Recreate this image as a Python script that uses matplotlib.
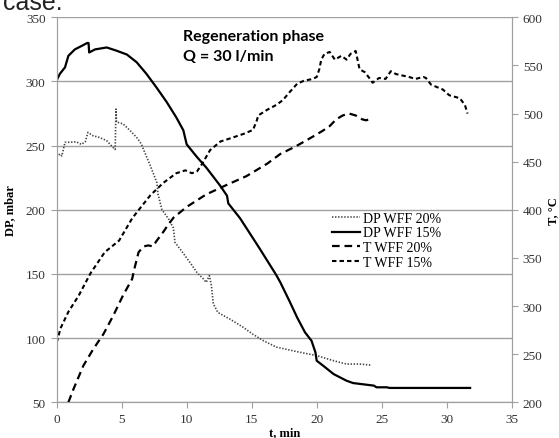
import matplotlib
matplotlib.use("Agg")
import matplotlib.pyplot as plt

# DP WFF 20% (dotted), mbar
t_dp20 = [0, 0.25, 0.4, 0.64, 1.0, 1.5, 1.9, 2.2, 2.4, 2.8, 3.3, 3.85, 4.2, 4.5, 4.56,
          4.6, 5.1, 5.64, 6.15, 6.5, 6.66, 7.2, 7.7, 7.8, 8.1, 8.6, 8.97, 9.1, 9.6, 10.25,
          10.8, 11.3, 11.5, 11.75, 11.9, 12.05, 12.4, 13.3, 14.35, 15.1, 15.9, 16.9, 18.7,
          20.0, 21.3, 22.3, 23.3, 24.2]
dp20 = [241, 243.6, 242, 252.6, 252.6, 253, 251, 253, 260.3, 257.7, 256.4, 253.8, 250, 247,
        278.5, 268.4, 267, 261.8, 256.4, 251.5, 247.5, 234.4, 221.3, 212, 200, 193, 186,
        174.6, 168, 159, 151, 146, 143.5, 148.7, 141, 126.6, 120, 115, 108.4, 103, 98, 93,
        89, 86.4, 82.4, 79.8, 79.8, 79]

# DP WFF 15% (solid), mbar
t_dp15 = [0, 0.25, 0.64, 0.9, 1.4, 1.9, 2.35, 2.45, 2.5, 2.95, 3.85, 4.6, 5.4, 6.15, 6.9,
          7.7, 8.46, 9.2, 9.74, 10.0, 10.8, 11.5, 12.56, 13.1, 13.2, 14.1, 15.6, 16.9, 17.2,
          17.9, 18.5, 19.1, 19.6, 19.9, 20.0, 20.5, 21.3, 22.3, 22.8, 24.4, 24.6, 25.4,
          25.6, 31.8]
dp15 = [301, 306, 311, 320, 325, 327.6, 330, 330, 322.6, 325, 326.5, 324, 321, 315, 306,
        295, 284, 272, 262, 251, 241, 233, 219, 211, 205, 193.5, 170, 149, 143.5, 129, 116,
        104.5, 98, 89, 82.4, 78.5, 72, 66.8, 65, 63, 61.7, 61.7, 61.2, 61.2]

# T WFF 20% (long dashes), degC
t_t20 = [0.9, 1.3, 2.05, 2.8, 3.6, 4.35, 5.1, 5.8, 6.0, 6.3, 6.7, 7.05, 7.4, 7.7, 8.2,
         8.6, 9.0, 10.0, 11.5, 13.1, 14.6, 16.2, 17.2, 18.4, 19.7, 20.45, 21.0, 21.5, 22.0,
         22.5, 23.0, 23.5, 23.8, 24.05]
temp20 = [200, 214, 238, 255, 271, 290, 311, 328, 340, 356, 362, 363, 362, 368, 377, 385,
          392, 403, 416, 426, 435, 448, 458, 466, 476, 482, 487, 494, 498, 500, 498, 494,
          493, 494]

# T WFF 15% (short dashes), degC
t_t15 = [0, 0.3, 0.9, 1.7, 2.6, 3.7, 4.8, 5.8, 6.2, 7.2, 8.2, 9.2, 9.9, 10.4, 10.8, 11.2,
         11.8, 12.6, 13.3, 14.4, 15.1, 15.4, 15.5, 16.2, 16.9, 17.4, 17.9, 18.5, 19.0,
         19.7, 20.0, 20.2, 20.35, 20.6, 21.0, 21.4, 21.9, 22.3, 22.6, 23.0, 23.3, 23.7,
         24.1, 24.3, 24.8, 25.3, 25.7, 26.1, 27.1, 27.6, 28.2, 28.4, 28.8, 29.7, 30.2,
         31.0, 31.4, 31.6]
temp15 = [262, 277, 294, 311, 334, 356, 368, 391, 398, 415, 428, 438, 441, 438, 440, 448,
          462, 471, 474, 479, 483, 493, 498, 504, 509, 514, 522, 531, 534, 536, 538, 546,
          556, 562, 564, 556, 560, 556, 562, 565, 546, 543, 536, 532, 537, 536, 544, 541,
          538, 536, 538, 537, 530, 525, 519, 516, 509, 500]

plt.rcParams['lines.scale_dashes'] = False
plt.rcParams['font.family'] = ['Liberation Serif', 'DejaVu Serif']
grey = '#a0a0a0'
txt = '#333333'

fig = plt.figure(figsize=(5.59, 4.39), dpi=100)
ax = fig.add_axes([0.1014, 0.0813, 0.814, 0.877])
ax2 = ax.twinx()

l1, = ax.plot(t_dp20, dp20, color='#444444', lw=1.2, linestyle=(0, (1, 1.2)),
              label='DP WFF 20%')
l2, = ax.plot(t_dp15, dp15, color='black', lw=1.6, label='DP WFF 15%')
l3, = ax2.plot(t_t20, temp20, color='black', lw=1.6, linestyle=(0, (5.5, 3.5)),
               label='T WFF 20%')
l4, = ax2.plot(t_t15, temp15, color='black', lw=1.5, linestyle=(0, (3.2, 2.2)),
               label='T WFF 15%')

ax.set_xlim(0, 35)
ax.set_ylim(50, 350)
ax2.set_ylim(200, 600)
ax.set_xticks(range(0, 36, 5))
ax.set_yticks(range(50, 351, 50))
ax2.set_yticks(range(200, 601, 50))
ax.grid(axis='y', color=grey, lw=1)
ax.set_axisbelow(True)

for a in (ax, ax2):
    for s in a.spines.values():
        s.set_color(grey)
    a.spines['top'].set_visible(False)
    a.tick_params(direction='out', length=4, color=grey, labelsize=9.5,
                  labelcolor=txt, pad=4)

ax.set_ylabel('DP, mbar', fontsize=9, fontweight='bold', labelpad=7)
ax2.set_ylabel('T, °C', fontsize=9, fontweight='bold', rotation=90, labelpad=3)
ax.set_xlabel('t, min', fontsize=9, fontweight='bold', labelpad=0.5)

ax.text(0.278, 0.951, 'Regeneration phase', transform=ax.transAxes, family='Lato',
        fontweight='bold', fontsize=11.5, va='center', color='black')
ax.text(0.278, 0.899, 'Q = 30 l/min', transform=ax.transAxes, family='Lato',
        fontweight='bold', fontsize=11.5, va='center', color='black')

ax2.legend(handles=[l1, l2, l3, l4], loc='upper left', bbox_to_anchor=(0.605, 0.495),
           frameon=False, prop={'size': 10}, handlelength=2.0,
           handletextpad=0.2, labelspacing=0.12, borderpad=0, borderaxespad=0)

# bit of the surrounding page text, cut by the top edge as in the source image
fig.text(0.005, 1 - 10 / 439, 'case.', family='Liberation Sans', fontsize=18,
         va='baseline', color='#222222')

fig.savefig('out.png', dpi=100)
